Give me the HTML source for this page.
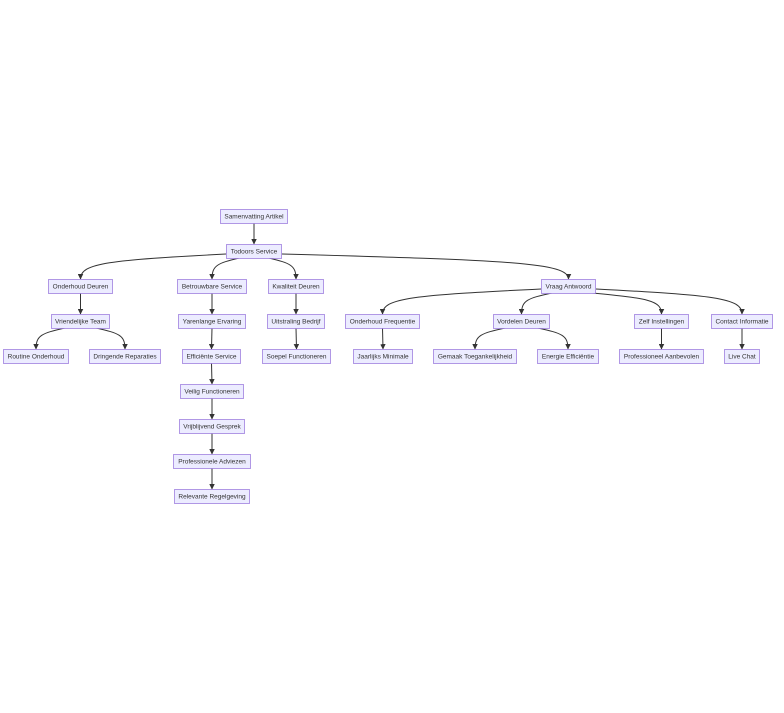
<!DOCTYPE html>
<html><head><meta charset="utf-8">
<style>
html,body{margin:0;padding:0;background:#fff;}
svg{display:block;}
text{font-family:"Liberation Sans",sans-serif;font-size:6.5px;fill:#333;}
</style></head>
<body>
<svg id="s" width="784" height="713" viewBox="0 0 784 713" xmlns="http://www.w3.org/2000/svg">
<defs><marker id="a" viewBox="0 0 10 10" refX="9" refY="5" markerWidth="5.5" markerHeight="5.5" orient="auto"><path d="M0,0L10,5L0,10z" fill="#333"/></marker></defs>
<g id="e"></g><g id="n"></g>
</svg>
<script>
var N={
A:["Samenvatting Artikel",220,288,216],
B:["Todoors Service",226,282,251],
C:["Onderhoud Deuren",48,113,286],
D:["Betrouwbare Service",177,247,286],
E:["Kwaliteit Deuren",268,324,286],
F:["Vraag Antwoord",541,596,286],
G:["Vriendelijke Team",51,110,321],
H:["Yarenlange Ervaring",178,246,321],
I:["Uitstraling Bedrijf",267,325,321],
J:["Onderhoud Frequentie",345,420,321],
K:["Vordelen Deuren",493,550,321],
L:["Zelf Instellingen",634,689,321],
M:["Contact Informatie",711,773,321],
O:["Routine Onderhoud",3,69,356],
P:["Dringende Reparaties",89,161,356],
Q:["Efficiënte Service",182,241,356],
R:["Soepel Functioneren",262,331,356],
S:["Jaarlijks Minimale",353,413,356],
T:["Gemaak Toegankelijkheid",433,517,356],
U:["Energie Efficiëntie",537,599,356],
V:["Professioneel Aanbevolen",619,704,356],
W:["Live Chat",724,760,356],
X:["Veilig Functioneren",180,244,391],
Y:["Vrijblijvend Gesprek",179,245,426],
Z:["Professionele Adviezen",173,251,461],
AA:["Relevante Regelgeving",174,250,496]};
var E=[["A","B"],["B","C"],["B","D"],["B","E"],["B","F"],["C","G"],["D","H"],["E","I"],["F","J"],["F","K"],["F","L"],["F","M"],["G","O"],["G","P"],["H","Q"],["I","R"],["J","S"],["K","T"],["K","U"],["L","V"],["M","W"],["Q","X"],["X","Y"],["Y","Z"],["Z","AA"]];
var ns="http://www.w3.org/2000/svg",gn=document.getElementById("n"),ge=document.getElementById("e");
function el(t,a,p){var x=document.createElementNS(ns,t);for(var k in a)x.setAttribute(k,a[k]);p.appendChild(x);return x;}
for(var k in N){var d=N[k];el("rect",{x:d[1]+.5,y:d[3]-7+.5,width:d[2]-d[1]-1,height:14,fill:"#ECECFF",stroke:"#9370DB","stroke-width":0.7},gn);
var t=el("text",{x:(d[1]+d[2])/2,y:d[3]+2.3,"text-anchor":"middle"},gn);t.textContent=d[0];}
E.forEach(function(p){var a=N[p[0]],b=N[p[1]];var ax=(a[1]+a[2])/2,bx=(b[1]+b[2])/2,w=(a[2]-a[1])/2,by=b[3]-7;
var dx=bx-ax,path;
if(Math.abs(dx)<1)path="M"+ax+","+(a[3]+7)+"L"+bx+","+by;
else{var sx,sy,sg=dx>0?1:-1;
if(Math.abs(dx)>150){sx=ax+sg*w;sy=a[3]+3;}
else{sx=ax+sg*Math.min(w-4,Math.abs(dx)*0.35);sy=a[3]+7;}
path="M"+sx+","+sy+" C"+(sx+(bx-sx)*0.8)+","+(sy+(by-sy)*0.25)+" "+bx+","+(sy+(by-sy)*0.35)+" "+bx+","+by;}
el("path",{d:path,fill:"none",stroke:"#333","stroke-width":1,"marker-end":"url(#a)"},ge);});
</script>
</body></html>
